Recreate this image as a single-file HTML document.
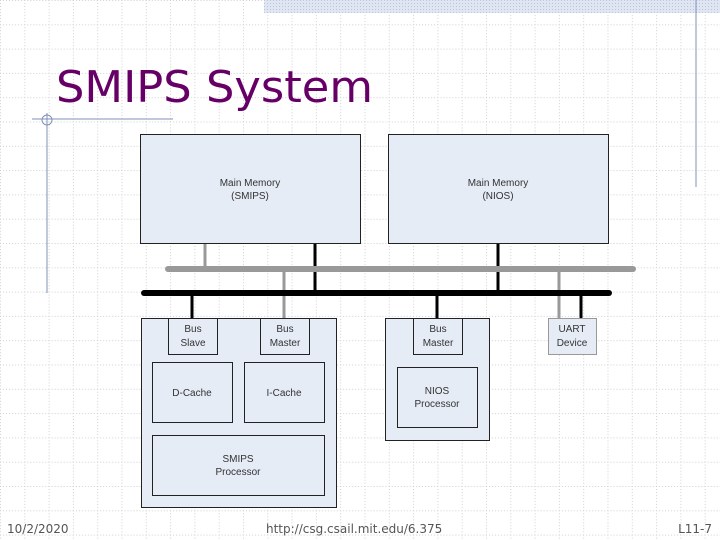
<!DOCTYPE html>
<html><head><style>
html,body{margin:0;padding:0;background:#fff;}
svg{display:block;}
text{font-family:"Liberation Sans",Arial,sans-serif;}
</style></head><body>
<svg width="720" height="540" viewBox="0 0 720 540" xmlns="http://www.w3.org/2000/svg">
<defs>
<pattern id="grid" width="24.3" height="24.3" patternUnits="userSpaceOnUse" x="0" y="0">
<path d="M0 0.5H24.3M0.5 0V24.3" stroke="#cfcfcf" stroke-width="1" stroke-dasharray="1,2" fill="none"/>
</pattern>
<pattern id="hatch" width="3" height="3" patternUnits="userSpaceOnUse">
<rect width="3" height="3" fill="#dfe6f2"/><rect width="1" height="1" fill="#b8c6e0"/>
</pattern>
</defs>
<rect width="720" height="540" fill="#fff"/>
<rect width="720" height="540" fill="url(#grid)"/>
<rect x="264" y="0" width="456" height="13" fill="url(#hatch)"/>
<line x1="696" y1="0" x2="696" y2="187" stroke="#8090b8" stroke-width="1"/>
<line x1="32" y1="119" x2="173" y2="119" stroke="#8090b8" stroke-width="1"/>
<line x1="47" y1="113" x2="47" y2="293" stroke="#8090b8" stroke-width="1"/>
<circle cx="47" cy="120" r="5" fill="none" stroke="#8090b8" stroke-width="1"/>
<text x="56" y="102" font-size="44" fill="#660066" textLength="317" lengthAdjust="spacingAndGlyphs" style="font-family:'DejaVu Sans',sans-serif">SMIPS System</text>

<!-- memories -->
<rect x="140.5" y="134.5" width="220" height="109" fill="#e5ecf6" stroke="#222"/>
<rect x="388.5" y="134.5" width="220" height="109" fill="#e5ecf6" stroke="#222"/>
<text x="250" y="186" font-size="10" text-anchor="middle" fill="#333">Main Memory</text>
<text x="250" y="199" font-size="10" text-anchor="middle" fill="#333">(SMIPS)</text>
<text x="498" y="186" font-size="10" text-anchor="middle" fill="#333">Main Memory</text>
<text x="498" y="199" font-size="10" text-anchor="middle" fill="#333">(NIOS)</text>

<!-- connectors -->
<line x1="205" y1="244" x2="205" y2="269" stroke="#999" stroke-width="3"/>
<line x1="284" y1="269" x2="284" y2="318" stroke="#999" stroke-width="3"/>
<line x1="559" y1="269" x2="559" y2="318" stroke="#999" stroke-width="3"/>
<line x1="315" y1="244" x2="315" y2="293" stroke="#000" stroke-width="3"/>
<line x1="498" y1="244" x2="498" y2="293" stroke="#000" stroke-width="3"/>
<line x1="192" y1="293" x2="192" y2="318" stroke="#000" stroke-width="3"/>
<line x1="437" y1="293" x2="437" y2="318" stroke="#000" stroke-width="3"/>
<line x1="581" y1="293" x2="581" y2="318" stroke="#000" stroke-width="3"/>
<line x1="168" y1="269" x2="633" y2="269" stroke="#999" stroke-width="6" stroke-linecap="round"/>
<line x1="144" y1="293" x2="609" y2="293" stroke="#000" stroke-width="6" stroke-linecap="round"/>

<!-- SMIPS block -->
<rect x="141.5" y="318.5" width="195" height="189" fill="#e5ecf6" stroke="#222"/>
<rect x="168.5" y="318.5" width="49" height="36" fill="#e5ecf6" stroke="#222"/>
<rect x="260.5" y="318.5" width="49" height="36" fill="#e5ecf6" stroke="#222"/>
<text x="193" y="332" font-size="10" text-anchor="middle" fill="#333">Bus</text>
<text x="193" y="346" font-size="10" text-anchor="middle" fill="#333">Slave</text>
<text x="285" y="332" font-size="10" text-anchor="middle" fill="#333">Bus</text>
<text x="285" y="346" font-size="10" text-anchor="middle" fill="#333">Master</text>
<rect x="152.5" y="362.5" width="80" height="60" fill="#e5ecf6" stroke="#222"/>
<rect x="244.5" y="362.5" width="80" height="60" fill="#e5ecf6" stroke="#222"/>
<text x="192" y="396" font-size="10" text-anchor="middle" fill="#333">D-Cache</text>
<text x="284" y="396" font-size="10" text-anchor="middle" fill="#333">I-Cache</text>
<rect x="152.5" y="435.5" width="172" height="60" fill="#e5ecf6" stroke="#222"/>
<text x="238" y="462" font-size="10" text-anchor="middle" fill="#333">SMIPS</text>
<text x="238" y="475" font-size="10" text-anchor="middle" fill="#333">Processor</text>

<!-- NIOS block -->
<rect x="385.5" y="318.5" width="104" height="122" fill="#e5ecf6" stroke="#222"/>
<rect x="413.5" y="318.5" width="49" height="36" fill="#e5ecf6" stroke="#222"/>
<text x="438" y="332" font-size="10" text-anchor="middle" fill="#333">Bus</text>
<text x="438" y="346" font-size="10" text-anchor="middle" fill="#333">Master</text>
<rect x="397.5" y="367.5" width="80" height="60" fill="#e5ecf6" stroke="#222"/>
<text x="437" y="394" font-size="10" text-anchor="middle" fill="#333">NIOS</text>
<text x="437" y="407" font-size="10" text-anchor="middle" fill="#333">Processor</text>

<!-- UART -->
<rect x="548.5" y="318.5" width="48" height="36" fill="#e5ecf6" stroke="#999"/>
<text x="572" y="332" font-size="10" text-anchor="middle" fill="#333">UART</text>
<text x="572" y="346" font-size="10" text-anchor="middle" fill="#333">Device</text>

<!-- footer -->
<text x="7" y="533" font-size="12" fill="#555" style="font-family:'DejaVu Sans',sans-serif">10/2/2020</text>
<text x="266" y="533" font-size="12" fill="#555" style="font-family:'DejaVu Sans',sans-serif">http://csg.csail.mit.edu/6.375</text>
<text x="712" y="533" font-size="12" fill="#555" text-anchor="end" style="font-family:'DejaVu Sans',sans-serif">L11-7</text>
</svg>
</body></html>
